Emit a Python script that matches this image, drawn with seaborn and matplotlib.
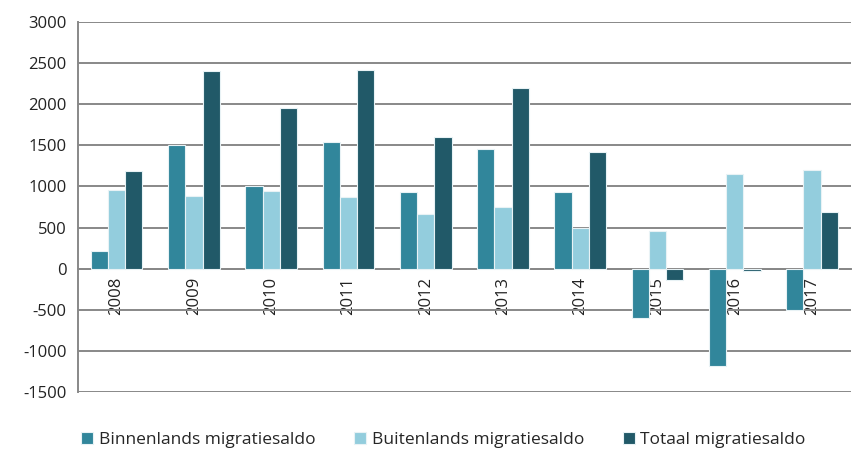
import seaborn as sns
from matplotlib import pyplot as plt
import pandas as pd

years = ["2008", "2009", "2010", "2011", "2012", "2013", "2014", "2015", "2016", "2017"]
binnenlands = [220, 1510, 1000, 1540, 930, 1450, 930, -595, -1190, -505]
buitenlands = [960, 880, 950, 870, 670, 745, 495, 455, 1155, 1195]
totaal = [1190, 2400, 1950, 2420, 1605, 2195, 1425, -140, -30, 695]
series = ["Binnenlands migratiesaldo", "Buitenlands migratiesaldo", "Totaal migratiesaldo"]
colors = ["#31869B", "#93CDDD", "#215968"]

df = pd.DataFrame({
    "jaar": years * 3,
    "saldo": binnenlands + buitenlands + totaal,
    "reeks": [s for s in series for _ in years],
})

sns.set_style("white")
plt.rcParams["font.family"] = ["Open Sans", "DejaVu Sans"]
plt.rcParams["axes.unicode_minus"] = False

fig = plt.figure(figsize=(8.52, 4.51), dpi=100)
ax = fig.add_axes([0.0915, 0.131, 0.907, 0.82])

sns.barplot(data=df, x="jaar", y="saldo", hue="reeks", palette=colors, saturation=1,
            width=0.67, edgecolor="#e8f2f5", linewidth=0.8, ax=ax, zorder=3)

ax.set_ylim(-1500, 3000)
ax.set_yticks(range(-1500, 3001, 500))
ax.set_xlim(-0.5, 9.5)
ax.grid(axis="y", color="#888888", linewidth=1.4, zorder=0)
ax.set_axisbelow(True)
ax.tick_params(axis="y", labelsize=12, length=0, pad=8, colors="#222222")

for side in ["top", "right"]:
    ax.spines[side].set_visible(False)
ax.spines["left"].set_color("#888888")
ax.spines["left"].set_linewidth(1.4)
ax.spines["bottom"].set_position(("data", 0))
ax.spines["bottom"].set_color("#888888")
ax.spines["bottom"].set_linewidth(1.4)

ax.set_xticks(range(len(years)))
ax.set_xticklabels(years, rotation=90, fontsize=12, color="#222222")
ax.tick_params(axis="x", length=0, pad=6)
ax.set_xticks([i - 0.5 for i in range(len(years) + 1)], minor=True)
ax.tick_params(axis="x", which="minor", length=6, width=1.4, color="#888888", direction="out")

ax.set_xlabel("")
ax.set_ylabel("")

handles, labels = ax.get_legend_handles_labels()
ax.get_legend().remove()
fig.legend(handles, labels, loc="lower left", bbox_to_anchor=(0.077, -0.028), ncol=3,
           frameon=False, fontsize=12.5, handlelength=0.7, handleheight=0.7,
           handletextpad=0.3, columnspacing=2.25)

fig.savefig("out.png", dpi=100)
